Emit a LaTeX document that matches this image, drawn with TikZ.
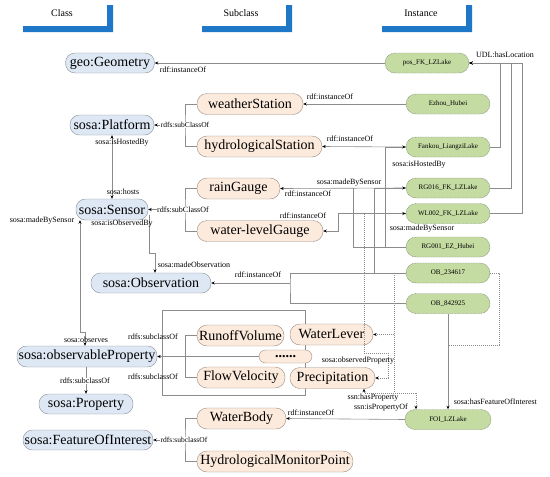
\documentclass[tikz,border=0pt]{standalone}
\usepackage{fontspec}
\setmainfont{Liberation Serif}
\usetikzlibrary{arrows.meta}

\definecolor{tabblue}{HTML}{1F77C8}
\definecolor{clsfill}{HTML}{DEE8F4}
\definecolor{clsline}{HTML}{8A9098}
\definecolor{subfill}{HTML}{FCEADC}
\definecolor{subline}{HTML}{9A8C82}
\definecolor{instfill}{HTML}{C4DCA2}
\definecolor{instline}{HTML}{7E8A72}
\definecolor{wire}{HTML}{8C8C8C}

\begin{document}
\begin{tikzpicture}[x=1pt,y=-1pt,
  cls/.style={draw=clsline,fill=clsfill,rounded corners=9.5pt,minimum height=20pt,
    inner sep=0pt,font=\fontsize{14}{16}\selectfont},
  sub/.style={draw=subline,fill=subfill,rounded corners=10pt,minimum height=21pt,
    inner sep=0pt,font=\fontsize{14}{16}\selectfont},
  inst/.style={draw=instline,fill=instfill,dash pattern=on 1pt off 0.6pt,rounded corners=10pt,
    minimum width=84pt,minimum height=20pt,inner sep=0pt,font=\fontsize{7}{8}\selectfont},
  lbl/.style={inner sep=0.6pt,font=\fontsize{8}{9}\selectfont},
  wlbl/.style={lbl,fill=white},
  conn/.style={draw=wire,line width=0.6pt},
  dots/.style={conn,dash pattern=on 1pt off 1pt},
  tip/.style={-{Stealth[length=3.5pt,width=3pt,color=black]}},
  twotip/.style={{Stealth[length=3.5pt,width=3pt,color=black]}-{Stealth[length=3.5pt,width=3pt,color=black]}}
]
\useasboundingbox (0,0) rectangle (550,477);

% headers
\fill[tabblue] (23,26) rectangle (113,32) (107,5) rectangle (113,32);
\fill[tabblue] (202,26) rectangle (292,32) (286,5) rectangle (292,32);
\fill[tabblue] (382,26) rectangle (472,32) (466,5) rectangle (472,32);
\node[font=\fontsize{10}{12}\selectfont] (hcls) at (62,13) {Class};
\node[font=\fontsize{10}{12}\selectfont] (hsub) at (241,13) {Subclass};
\node[font=\fontsize{10}{12}\selectfont] (hinst) at (421,13) {Instance};

% group frame of the properties
\draw[conn] (162,310) rectangle (305,395);

% classes
\node[cls,minimum width=89pt] (geo) at (110,63) {geo:Geometry};
\node[cls,minimum width=84pt] (plat) at (112,125) {sosa:Platform};
\node[cls,minimum width=72pt,minimum height=21pt] (sens) at (112,209.5) {sosa:Sensor};
\node[cls,minimum width=120pt] (obs) at (151,283) {sosa:Observation};
\node[cls,minimum width=140pt,minimum height=21pt] (oprop) at (87,356.5) {sosa:observableProperty};
\node[cls,minimum width=94pt] (prop) at (86,404) {sosa:Property};
\node[cls,minimum width=130pt] (foi) at (88,440) {sosa:FeatureOfInterest};

% subclasses
\node[sub,minimum width=106pt] (ws) at (250,104) {weatherStation};
\node[sub,minimum width=125pt] (hs) at (259.5,146.5) {hydrologicalStation};
\node[sub,minimum width=83pt] (rg) at (238.5,188.5) {rainGauge};
\node[sub,minimum width=126pt] (wlg) at (260,231) {water-levelGauge};
\node[sub,minimum width=87pt] (runoff) at (240.5,335.5) {RunoffVolume};
\node[sub,minimum width=53pt,minimum height=13pt,rounded corners=6.5pt] (more) at (285.5,356.5) {\textbf{......}};
\node[sub,minimum width=88pt] (flow) at (241,377.5) {FlowVelocity};
\node[sub,minimum width=83pt] (wlever) at (331.5,334.5) {WaterLever};
\node[sub,minimum width=85pt] (precip) at (332.5,378) {Precipitation};
\node[sub,minimum width=89pt] (wbody) at (241.5,418.5) {WaterBody};
\node[sub,minimum width=156pt] (hmp) at (275,461.5) {HydrologicalMonitorPoint};

% instances
\node[inst] (pos) at (427,63) {pos\_FK\_LZLake};
\node[inst] (ezhou) at (448,104) {Ezhou\_Hubei};
\node[inst] (fankou) at (448,147) {Fankou\_LiangziLake};
\node[inst] (rgA) at (448,188) {RG016\_FK\_LZLake};
\node[inst] (wlA) at (448,213.5) {WL002\_FK\_LZLake};
\node[inst] (rgB) at (448,247) {RG001\_EZ\_Hubei};
\node[inst] (obA) at (448,273) {OB\_234617};
\node[inst] (obB) at (448,303.5) {OB\_842925};
\node[inst,minimum width=86pt] (lake) at (448,419.5) {FOI\_LZLake};

% junctions
\coordinate (platbr) at (185,125);
\coordinate (sensbr) at (185,209.5);
\coordinate (foibr) at (185,440);
\coordinate (hostbus) at (385,247);
\coordinate (rgbus) at (353,188);
\coordinate (obsbus) at (290,283);
\coordinate (bysA) at (374,273);
\coordinate (bysB) at (364,273);
\coordinate (opA) at (394,273);
\coordinate (opB) at (364,353);
\coordinate (foibus) at (448,345);
\coordinate (hpbus) at (416,393);

% class level
\draw[conn,twotip] (plat.south) -- (sens.north);
\draw[conn,twotip] ([xshift=-32]sens.south) -- ++(0,112) -| ([xshift=-2]oprop.north);
\draw[conn,tip] ([xshift=1,yshift=-5]sens.east) -- ++(0,38.5) -| ([xshift=4]obs.north);
\draw[conn,tip] (oprop.south -| prop.north) -- (prop.north);

% subclass brackets
\draw[conn] (ws.west) -| (platbr) |- (hs.west);
\draw[conn,tip] (platbr) -- (plat.east);
\draw[conn] (rg.west) -| (sensbr) |- (wlg.west);
\draw[conn,tip] (sensbr) -- (sens.east);
\draw[conn] (runoff.west) -- ++(-12,0) |- (flow.west);
\draw[conn,tip] (more.west) -- (oprop.east |- more.west);
\draw[conn] (wbody.west) -| (foibr) |- (hmp.west);
\draw[conn,tip] (foibr) -- (foi.east);

% instance level
\draw[conn,tip] (pos.west) -- (geo.east);
\draw[conn,tip] (fankou.east) -- ++(10,0) |- (pos.east);
\draw[conn,tip] (rgA.east) -- ++(21,0) |- (pos.east);
\draw[conn,tip] (wlA.east) -- ++(32,0) |- (pos.east);
\draw[conn,tip] (ezhou.west) -- (ws.east);
\draw[conn,tip] (fankou.west) -- (hs.east);
\draw[conn,tip] (hostbus) |- (fankou.west);
\draw[conn,tip] (rgA.west) -- (rg.east);
\draw[conn] (rgB.west) -| (rgbus);
\draw[conn,tip] (wlA.west) -- ++(-68,0) |- (wlg.east);
\draw[conn,tip] (bysA) |- (rgA.west);
\draw[dots,tip] (bysB) |- (wlA.west);
\draw[conn] (obA.west) -| (obsbus) |- (obB.west);
\draw[conn,tip] (obsbus) -- (obs.east);
\draw[dots] (opA) -- (opA |- hpbus);
\draw[dots,tip] (opA |- wlever.east) -- (wlever.east);
\draw[dots] (bysB) -- (opB);
\draw[dots,tip] (opB) -- ++(24,0) |- (precip.east);
\draw[conn,tip] (obB.south) -- (lake.north);
\draw[dots] (obA.east) -- ++(9,0) |- (foibus);
\draw[dots,tip] (hpbus) -| ([xshift=31.5]precip.south);
\draw[dots,tip] (hpbus) -- (lake.north -| hpbus);
\draw[conn,tip] (lake.west) -- (wbody.east);

% labels
\node[lbl] (lgeo) at (183,70) {rdf:instanceOf};
\node[lbl] (lloc) at (505,55) {UDL:hasLocation};
\node[lbl] (lws) at (330,97) {rdf:instanceOf};
\node[lbl] (lhs) at (350,139) {rdf:instanceOf};
\node[wlbl,font=\fontsize{7.5}{9}\selectfont] (lplat) at (185,125) {rdfs:subClassOf};
\node[lbl] (lisby) at (122,143) {sosa:isHostedBy};
\node[lbl] (lhosts) at (123,192) {sosa:hosts};
\node[wlbl] (lsens) at (183,209.5) {rdfs:subClassOf};
\node[lbl] (lmbs) at (42,221) {sosa:madeBySensor};
\node[lbl] (liob) at (122,224) {sosa:isObservedBy};
\node[lbl,anchor=west] (lmo) at (157,265) {sosa:madeObservation};
\node[lbl] (lhost) at (419,165) {sosa:isHostedBy};
\node[lbl] (lmbsA) at (349,183) {sosa:madeBySensor};
\node[lbl] (lrg) at (308,194) {rdf:instanceOf};
\node[lbl] (lwlg) at (303,216) {rdf:instanceOf};
\node[lbl] (lmbsB) at (422,229) {sosa:madeBySensor};
\node[lbl] (lobs) at (258,275) {rdf:instanceOf};
\node[lbl] (lobsv) at (86,340) {sosa:observes};
\node[lbl] (lsubA) at (153,337) {rdfs:subclassOf};
\node[lbl] (lsubB) at (153,377) {rdfs:subclassOf};
\node[wlbl] (lprop) at (85,381) {rdfs:subclassOf};
\node[wlbl,font=\fontsize{7.5}{9}\selectfont] (lfoi) at (184,440) {rdfs:subclassOf};
\node[lbl] (lop) at (358,361) {sosa:observedProperty};
\node[lbl] (lhp) at (373,398) {ssn:hasProperty};
\node[lbl] (lipo) at (381,408) {ssn:isPropertyOf};
\node[lbl,anchor=west] (lhfoi) at (453,402) {sosa:hasFeatureOfInterest};
\node[lbl] (lwb) at (311,413) {rdf:instanceOf};
\end{tikzpicture}
\end{document}
